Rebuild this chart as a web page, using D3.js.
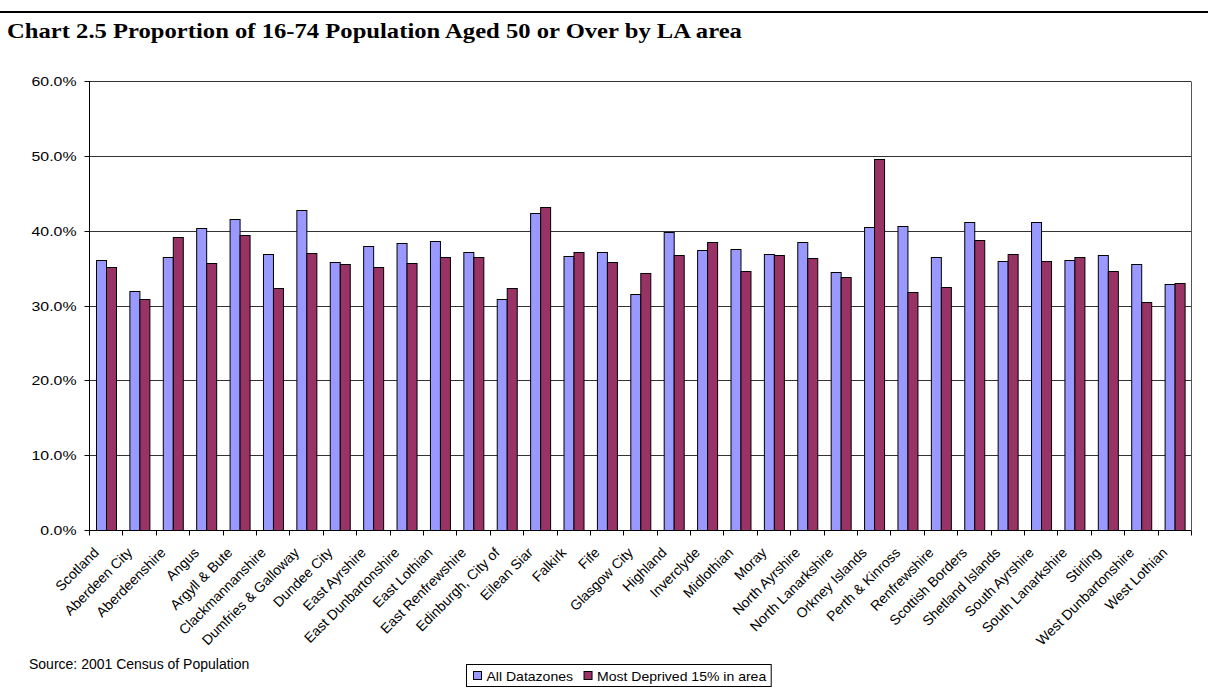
<!DOCTYPE html>
<html>
<head>
<meta charset="utf-8">
<script src="https://cdn.jsdelivr.net/npm/d3@7"></script>
<style>
  body { margin: 0; background: #fff; }
  svg { display: block; }
</style>
</head>
<body>
<div id="chart"></div>
<script>
  /* DATA */
  const areas = ["Scotland", "Aberdeen City", "Aberdeenshire", "Angus", "Argyll & Bute",
    "Clackmannanshire", "Dumfries & Galloway", "Dundee City", "East Ayrshire",
    "East Dunbartonshire", "East Lothian", "East Renfrewshire", "Edinburgh, City of",
    "Eilean Siar", "Falkirk", "Fife", "Glasgow City", "Highland", "Inverclyde",
    "Midlothian", "Moray", "North Ayrshire", "North Lanarkshire", "Orkney Islands",
    "Perth & Kinross", "Renfrewshire", "Scottish Borders", "Shetland Islands",
    "South Ayrshire", "South Lanarkshire", "Stirling", "West Dunbartonshire", "West Lothian"];

  const allDatazones = [36.1, 31.9, 36.5, 40.4, 41.6, 36.9, 42.8, 35.8, 38.0, 38.3, 38.6,
    37.1, 30.9, 42.3, 36.6, 37.1, 31.6, 39.8, 37.4, 37.6, 36.9, 38.5, 34.5, 40.5,
    40.6, 36.5, 41.2, 36.0, 41.1, 36.1, 36.7, 35.6, 32.9];

  const mostDeprived = [35.2, 30.9, 39.2, 35.7, 39.4, 32.3, 37.0, 35.6, 35.1, 35.7, 36.5,
    36.5, 32.4, 43.1, 37.1, 35.8, 34.4, 36.8, 38.5, 34.6, 36.8, 36.3, 33.8, 49.6,
    31.8, 32.5, 38.8, 36.9, 36.0, 36.5, 34.6, 30.5, 33.0];

  const seriesNames = ["All Datazones", "Most Deprived 15% in area"];
  const seriesColors = ["#9999FF", "#993366"];
  const yTicks = [0, 10, 20, 30, 40, 50, 60];

  const title = "Chart 2.5 Proportion of 16-74 Population Aged 50 or Over by LA area";
  const source = "Source: 2001 Census of Population";

  /* LAYOUT */
  const width = 1208,
    height = 690,
    margin = { top: 81, bottom: 160, left: 89, right: 17 };
  const sx = 1.22; // axis text is a little wider than tall in the picture
  const font = "'Liberation Sans', Arial, sans-serif";

  const svg = d3.select("#chart")
    .append("svg")
    .attr("width", width)
    .attr("height", height);

  // rule and title above the chart
  svg.append("line")
    .attr("x1", 0).attr("x2", width)
    .attr("y1", 12).attr("y2", 12)
    .attr("stroke", "#000")
    .attr("stroke-width", 2);

  svg.append("text")
    .attr("transform", "translate(7,38) scale(1.12,1)")
    .style("font-family", "'Liberation Serif', 'Times New Roman', serif")
    .style("font-weight", "bold")
    .style("font-size", "22px")
    .text(title);

  /* SCALES */
  const data = areas.map((a, i) => ({ area: a, values: [allDatazones[i], mostDeprived[i]] }));

  const x0 = d3.scaleBand()
    .domain(areas)
    .range([margin.left, width - margin.right]);

  const x1 = d3.scaleBand()
    .domain([0, 1])
    .range([0, x0.step()])
    .paddingOuter(0.67);

  const y = d3.scaleLinear()
    .domain([0, 60])
    .range([height - margin.bottom, margin.top]);

  const y0 = y(0);

  // gridlines
  svg.append("g")
    .selectAll("line")
    .data(yTicks.slice(1))
    .join("line")
    .attr("x1", margin.left)
    .attr("x2", width - margin.right)
    .attr("y1", d => Math.round(y(d)) + 0.5)
    .attr("y2", d => Math.round(y(d)) + 0.5)
    .attr("stroke", "#333");

  // right border of plot area
  svg.append("line")
    .attr("x1", Math.round(width - margin.right) + 0.5)
    .attr("x2", Math.round(width - margin.right) + 0.5)
    .attr("y1", Math.round(y(60)) + 0.5)
    .attr("y2", Math.round(y0) + 0.5)
    .attr("stroke", "#555");

  /* BARS */
  svg.append("g")
    .selectAll("g")
    .data(data)
    .join("g")
    .attr("transform", d => `translate(${x0(d.area)},0)`)
    .selectAll("rect")
    .data(d => d.values.map((v, k) => ({ v, k })))
    .join("rect")
    .attr("x", d => Math.round(x1(d.k) + 0.001) + 0.5)
    .attr("y", d => Math.round(y(d.v)) + 0.5)
    .attr("width", Math.round(x1.bandwidth()))
    .attr("height", d => Math.round(y0) - Math.round(y(d.v)))
    .attr("fill", d => seriesColors[d.k])
    .attr("stroke", "#000")
    .attr("stroke-width", 1);

  /* AXES */
  const yAxis = svg.append("g")
    .attr("transform", `translate(${Math.round(margin.left) + 0.5},0)`);
  yAxis.append("line")
    .attr("y1", y(60)).attr("y2", y0)
    .attr("stroke", "#000");
  const yTick = yAxis.selectAll("g")
    .data(yTicks)
    .join("g")
    .attr("transform", d => `translate(0,${Math.round(y(d)) + 0.5})`);
  yTick.append("line")
    .attr("x1", -5).attr("x2", 0)
    .attr("stroke", "#000");
  yTick.append("text")
    .attr("transform", `translate(-13,0) scale(${sx},1)`)
    .attr("dy", "0.35em")
    .attr("text-anchor", "end")
    .style("font-family", font)
    .style("font-size", "13px")
    .text(d => d.toFixed(1) + "%");

  const xAxis = svg.append("g")
    .attr("transform", `translate(0,${Math.round(y0) + 0.5})`);
  xAxis.append("line")
    .attr("x1", margin.left).attr("x2", width - margin.right)
    .attr("stroke", "#000");
  xAxis.selectAll("line.tick")
    .data(areas.concat([null]))
    .join("line")
    .attr("class", "tick")
    .attr("x1", (d, i) => Math.round(margin.left + i * x0.step()) + 0.5)
    .attr("x2", (d, i) => Math.round(margin.left + i * x0.step()) + 0.5)
    .attr("y1", 0).attr("y2", 5)
    .attr("stroke", "#000");
  xAxis.selectAll("text")
    .data(areas)
    .join("text")
    .attr("transform", d => `translate(${x0(d) + x0.bandwidth() / 2 - 6},23) rotate(-45)`)
    .attr("text-anchor", "end")
    .style("font-family", font)
    .style("font-size", "14px")
    .text(d => d);

  /* SOURCE */
  svg.append("text")
    .attr("x", 29)
    .attr("y", 669)
    .style("font-family", font)
    .style("font-size", "14px")
    .text(source);

  /* LEGEND */
  const lsx = 1.08;
  const legend = svg.append("g")
    .attr("transform", "translate(466.5,664.5)");
  const legendBox = legend.append("rect")
    .attr("height", 22)
    .attr("fill", "#fff")
    .attr("stroke", "#000");

  let lx = 7;
  seriesNames.forEach((name, k) => {
    legend.append("rect")
      .attr("x", lx).attr("y", 7)
      .attr("width", 8).attr("height", 8)
      .attr("fill", seriesColors[k])
      .attr("stroke", "#000");
    const t = legend.append("text")
      .attr("transform", `translate(${lx + 13},16) scale(${lsx},1)`)
      .style("font-family", font)
      .style("font-size", "13px")
      .text(name);
    lx += 13 + t.node().getComputedTextLength() * lsx + 11;
  });
  legendBox.attr("width", lx - 6);
</script>
</body>
</html>
